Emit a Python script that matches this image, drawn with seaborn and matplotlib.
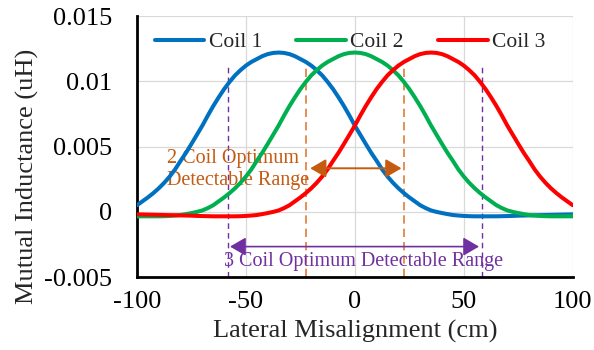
import matplotlib
matplotlib.use("Agg")
import matplotlib.pyplot as plt
import pandas as pd
import seaborn as sns

# Lateral misalignment positions (cm), every 2.5 cm
x_cm = [-100 + 2.5 * i for i in range(81)]

# Mutual inductance of each coil (uH)
coil1 = [0.0005, 0.0008, 0.0011, 0.00143, 0.0018, 0.00222, 0.0027, 0.00325, 0.0039,
         0.00452, 0.0052, 0.0059, 0.0066, 0.00737, 0.0081, 0.00877, 0.0094, 0.00995,
         0.01045, 0.01085, 0.0112, 0.01148, 0.0117, 0.01192, 0.01208, 0.01217, 0.0122,
         0.01217, 0.01208, 0.01192, 0.0117, 0.01148, 0.0112, 0.01085, 0.01045, 0.00995,
         0.0094, 0.00877, 0.0081, 0.00737, 0.0066, 0.0059, 0.0052, 0.00452, 0.0039,
         0.00325, 0.0027, 0.00222, 0.0018, 0.00143, 0.0011, 0.0008, 0.0005, 0.00028,
         0.0001, -0.00001, -0.0001, -0.00018, -0.00025, -0.00029, -0.00032, -0.00034,
         -0.00035, -0.00035, -0.00035, -0.00035, -0.00035, -0.00034, -0.00033, -0.00032,
         -0.0003, -0.00029, -0.00028, -0.00027, -0.00026, -0.00025, -0.00024, -0.00023,
         -0.00022, -0.00021, -0.0002]
coil2 = [-0.00035, -0.00035, -0.00035, -0.00035, -0.00035, -0.00034, -0.00032, -0.00029,
         -0.00025, -0.00018, -0.0001, -0.00001, 0.0001, 0.00028, 0.0005, 0.0008, 0.0011,
         0.00143, 0.0018, 0.00222, 0.0027, 0.00325, 0.0039, 0.00452, 0.0052, 0.0059,
         0.0066, 0.00737, 0.0081, 0.00877, 0.0094, 0.00995, 0.01045, 0.01085, 0.0112,
         0.01148, 0.0117, 0.01192, 0.01208, 0.01217, 0.0122,
         0.01217, 0.01208, 0.01192, 0.0117, 0.01148, 0.0112, 0.01085, 0.01045, 0.00995,
         0.0094, 0.00877, 0.0081, 0.00737, 0.0066, 0.0059, 0.0052, 0.00452, 0.0039,
         0.00325, 0.0027, 0.00222, 0.0018, 0.00143, 0.0011, 0.0008, 0.0005, 0.00028,
         0.0001, -0.00001, -0.0001, -0.00018, -0.00025, -0.00029, -0.00032, -0.00034,
         -0.00035, -0.00035, -0.00035, -0.00035, -0.00035]
coil3 = [-0.0002, -0.00021, -0.00022, -0.00023, -0.00024, -0.00025, -0.00026, -0.00027,
         -0.00028, -0.00029, -0.0003, -0.00032, -0.00033, -0.00034, -0.00035, -0.00035,
         -0.00035, -0.00035, -0.00035, -0.00034, -0.00032, -0.00029, -0.00025, -0.00018,
         -0.0001, -0.00001, 0.0001, 0.00028, 0.0005, 0.0008, 0.0011, 0.00143, 0.0018,
         0.00222, 0.0027, 0.00325, 0.0039, 0.00452, 0.0052, 0.0059, 0.0066, 0.00737,
         0.0081, 0.00877, 0.0094, 0.00995, 0.01045, 0.01085, 0.0112, 0.01148, 0.0117,
         0.01192, 0.01208, 0.01217, 0.0122, 0.01217, 0.01208, 0.01192, 0.0117, 0.01148,
         0.0112, 0.01085, 0.01045, 0.00995, 0.0094, 0.00877, 0.0081, 0.00737, 0.0066,
         0.0059, 0.0052, 0.00452, 0.0039, 0.00325, 0.0027, 0.00222, 0.0018, 0.00143,
         0.0011, 0.0008, 0.0005]

coil_names = ["Coil 1", "Coil 2", "Coil 3"]
coil_colors = ["#0070C0", "#00B050", "#FF0000"]

x_ticks = [-100, -50, 0, 50, 100]
x_tick_labels = ["-100", "-50", "0", "50", "100"]
y_ticks = [-0.005, 0, 0.005, 0.01, 0.015]
y_tick_labels = ["-0.005", "0", "0.005", "0.01", "0.015"]

# Detectable ranges (cm)
range_2coil = [-22.5, 22.5]
range_3coil = [-58.4, 58.4]
arrow_2coil = [-20.5, 21.4]
arrow_3coil = [-57.3, 57.0]
arrow_2coil_y = 0.00333
arrow_3coil_y = -0.00267

df = pd.DataFrame({
    "x": x_cm * 3,
    "M": coil1 + coil2 + coil3,
    "coil": sum([[n] * len(x_cm) for n in coil_names], []),
})

sns.set_theme(style="white")
plt.rcParams["font.family"] = ["Liberation Serif", "DejaVu Serif"]

fig = plt.figure(figsize=(5.94, 3.5), dpi=100)
ax = fig.add_axes([137 / 594, 73 / 350, 435.7 / 594, 261 / 350])

grid_c = "#D9D9D9"
for xv in x_ticks:
    ax.axvline(xv, color=grid_c, lw=0.9, zorder=0)
for yv in y_ticks:
    ax.axhline(yv, color=grid_c, lw=0.9, zorder=0)

orange = "#C55A11"
orange_dash = "#E07B39"
purple = "#7030A0"

ax.vlines(range_3coil, -0.005, 0.0112, colors=purple, lw=1.0,
          linestyles=(0, (4, 3)), zorder=1)
ax.vlines(range_2coil, -0.005, 0.0113, colors=orange_dash, lw=1.2,
          linestyles=(0, (5, 3)), zorder=1)

sns.lineplot(data=df, x="x", y="M", hue="coil", palette=coil_colors,
             linewidth=2.9, ax=ax, legend=False, zorder=3)
for ln in ax.get_lines():
    ln.set_solid_joinstyle("round")

ax.annotate("", xy=(arrow_2coil[1], arrow_2coil_y), xytext=(arrow_2coil[0], arrow_2coil_y),
            arrowprops=dict(arrowstyle="<|-|>,head_length=0.6,head_width=0.35",
                            color=orange, lw=1.4, shrinkA=0, shrinkB=0,
                            mutation_scale=16), zorder=4)
ax.annotate("", xy=(arrow_3coil[1], arrow_3coil_y), xytext=(arrow_3coil[0], arrow_3coil_y),
            arrowprops=dict(arrowstyle="<|-|>,head_length=0.6,head_width=0.35",
                            color=purple, lw=1.2, shrinkA=0, shrinkB=0,
                            mutation_scale=16), zorder=4)

ax.text(-86.4, 0.00325, "2 Coil Optimum\nDetectable Range", color=orange,
        fontsize=14.5, ha="left", va="center", linespacing=1.25, zorder=2)
ax.text(3.8, -0.0038, "3 Coil Optimum Detectable Range", color=purple,
        fontsize=14.5, ha="center", va="center", zorder=2)

ax.set_xlim(-100, 100)
ax.set_ylim(-0.005, 0.015)
ax.set_xticks(x_ticks)
ax.set_xticklabels(x_tick_labels)
ax.set_yticks(y_ticks)
ax.set_yticklabels(y_tick_labels)
ax.tick_params(axis="x", length=0, pad=10, labelsize=19, colors="black")
ax.tick_params(axis="y", direction="in", length=5, width=2, pad=18,
               labelsize=19, colors="black")

for side in ["top", "right"]:
    ax.spines[side].set_visible(False)
for side in ["left", "bottom"]:
    ax.spines[side].set_color("black")
    ax.spines[side].set_linewidth(2.0)

ax.set_xlabel("Lateral Misalignment (cm)", fontsize=19, va="center")
ax.set_ylabel("Mutual Inductance (uH)", fontsize=19, va="center")
ax.xaxis.set_label_coords(0.5, -0.21)
ax.yaxis.set_label_coords(-0.2525, 0.385)

handles = [plt.Line2D([], [], color=c, lw=2.9) for c in coil_colors]
ax.legend(handles, coil_names, loc="center left", bbox_to_anchor=(0.041, 0.90),
          ncol=3, frameon=False, fontsize=15.5, handlelength=2.3,
          handletextpad=0.2, columnspacing=1.6, borderpad=0, borderaxespad=0)

fig.savefig("out.png", dpi=100)
